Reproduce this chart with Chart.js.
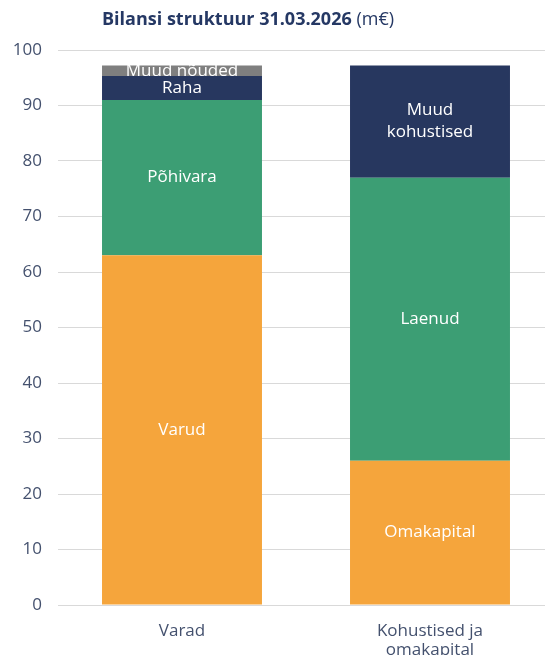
<!DOCTYPE html>
<html><head><meta charset="utf-8">
<script src="https://cdn.jsdelivr.net/npm/chart.js@4/dist/chart.umd.min.js"></script>
<style>
html,body{margin:0;padding:0;background:#fff;overflow:hidden;width:545px;height:655px;}
#wrap{position:relative;width:554px;height:655px;}
#title{position:absolute;left:102px;top:6px;font-family:"Open Sans",sans-serif;font-size:18px;color:#253864;white-space:nowrap;}
#title b{font-weight:700;}
canvas{position:absolute;left:0;top:0;}
</style></head>
<body>
<div id="wrap">
<canvas id="c" width="554" height="655"></canvas>
<div id="title"><b>Bilansi struktuur 31.03.2026</b> (m€)</div>
</div>
<script>
const categories = [["Varad"], ["Kohustised ja", "omakapital"]];
const segmentNames = ["Varud", "Põhivara", "Raha", "Muud nõuded", "Omakapital", "Laenud", "Muud kohustised"];
const segmentLabels = [["Varud"], ["Põhivara"], ["Raha"], ["Muud nõuded"], ["Omakapital"], ["Laenud"], ["Muud", "kohustised"]];
const varadValues = [63, 28, 4.3, 1.9, null, null, null];
const kohustisedValues = [null, null, null, null, 26, 51, 20.2];
const segmentColors = ["#F5A53C", "#3C9E74", "#27375F", "#7F7F7F", "#F5A53C", "#3C9E74", "#27375F"];
const yTicks = [0, 10, 20, 30, 40, 50, 60, 70, 80, 90, 100];

const datasets = segmentNames.map((n, i) => ({
  label: n,
  data: [varadValues[i], kohustisedValues[i]],
  backgroundColor: segmentColors[i],
  borderWidth: 0,
  segLabel: segmentLabels[i]
}));

const labelPlugin = {
  id: 'segLabels',
  afterDatasetsDraw(chart) {
    const ctx = chart.ctx;
    ctx.save();
    ctx.fillStyle = '#ffffff';
    ctx.font = '17px "Open Sans", sans-serif';
    ctx.textAlign = 'center';
    ctx.textBaseline = 'middle';
    chart.data.datasets.forEach((ds, di) => {
      const meta = chart.getDatasetMeta(di);
      meta.data.forEach((el, i) => {
        if (ds.data[i] == null) return;
        const cy = (el.y + el.base) / 2;
        const lines = ds.segLabel;
        const lh = 22;
        lines.forEach((t, k) => {
          ctx.fillText(t, el.x, cy + (k - (lines.length - 1) / 2) * lh);
        });
      });
    });
    ctx.restore();
  }
};

new Chart(document.getElementById('c'), {
  type: 'bar',
  data: { labels: categories, datasets },
  options: {
    responsive: false,
    animation: false,
    layout: { padding: { top: 50, right: 0, left: 0, bottom: 0 } },
    plugins: { legend: { display: false }, tooltip: { enabled: false }, title: { display: false } },
    datasets: { bar: { barPercentage: 0.645, categoryPercentage: 1 } },
    scales: {
      x: {
        stacked: true,
        grid: { display: false },
        border: { display: false },
        ticks: { color: '#44516E', font: { family: '"Open Sans", sans-serif', size: 17, lineHeight: 1.15 }, padding: 8, maxRotation: 0 },
        afterFit(s) { s.height = 50; }
      },
      y: {
        stacked: true,
        min: 0, max: 100,
        afterBuildTicks(s) { s.ticks = yTicks.map(v => ({ value: v })); },
        grid: { color: '#D9D9D9', lineWidth: 1, drawTicks: false },
        border: { display: false },
        ticks: { color: '#44516E', font: { family: '"Open Sans", sans-serif', size: 17 }, padding: 16 },
        afterFit(s) { s.width = 58; }
      }
    }
  },
  plugins: [labelPlugin]
});
</script>
</body></html>
